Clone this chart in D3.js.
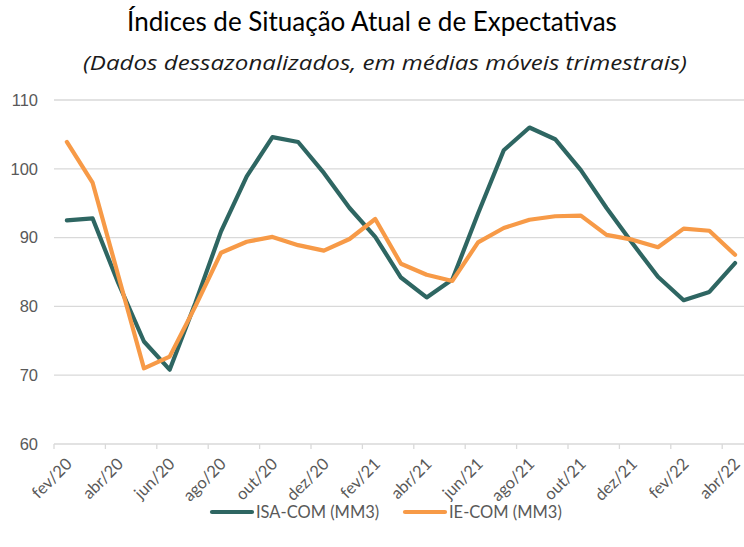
<!DOCTYPE html>
<html>
<head>
<meta charset="utf-8">
<script src="https://cdn.jsdelivr.net/npm/d3@7"></script>
<style>
  body { margin: 0; background: #fff; }
  svg { display: block; font-family: Lato, "Open Sans", sans-serif; }
</style>
</head>
<body>
<div id="chart"></div>
<script>
// months, fev/20 .. abr/22
const months = ["fev/20","mar/20","abr/20","mai/20","jun/20","jul/20","ago/20","set/20","out/20","nov/20","dez/20",
    "jan/21","fev/21","mar/21","abr/21","mai/21","jun/21","jul/21","ago/21","set/21","out/21","nov/21","dez/21",
    "jan/22","fev/22","mar/22","abr/22"];
const isaCom = [92.5, 92.8, 83.4, 74.9, 70.8, 80.5, 90.9, 98.9, 104.6, 103.9, 99.4, 94.3, 90.1, 84.2, 81.3, 83.9,
    93.5, 102.7, 106.0, 104.3, 99.8, 94.3, 89.2, 84.3, 80.9, 82.1, 86.3];
const ieCom = [103.9, 98.0, 84.5, 71.0, 72.7, 80.0, 87.8, 89.4, 90.1, 88.9, 88.1, 89.8, 92.7, 86.2, 84.6, 83.7,
    89.3, 91.4, 92.6, 93.1, 93.2, 90.4, 89.7, 88.6, 91.3, 91.0, 87.5];
const yTicks = [60, 70, 80, 90, 100, 110];
const seriesNames = ["ISA-COM (MM3)", "IE-COM (MM3)"];
const colors = ["#2e6662", "#f79a47"];

const W = 744, H = 547;
const svg = d3.select("#chart").append("svg").attr("width", W).attr("height", H);

// scales
let x = d3.scaleBand().domain(months).range([54, 54 + 27 * 25.7]);
let y = d3.scaleLinear().domain([60, 110]).range([444, 100]);

// title
svg.append("text").attr("x", 372).attr("y", 31).attr("text-anchor", "middle")
    .style("font-size", "26px").style("fill", "#000").text("Índices de Situação Atual e de Expectativas");
svg.append("text").attr("x", 385).attr("y", 70).attr("text-anchor", "middle")
    .attr("textLength", 604).attr("lengthAdjust", "spacingAndGlyphs")
    .style("font-family", "'Open Sans', sans-serif")
    .style("font-size", "20px").style("font-style", "italic").style("fill", "#1a1a1a")
    .text("(Dados dessazonalizados, em médias móveis trimestrais)");

// gridlines
svg.append("g").selectAll("line").data(yTicks.slice(1)).enter().append("line")
    .attr("x1", 54).attr("x2", W).attr("y1", (d) => y(d)).attr("y2", (d) => y(d))
    .attr("stroke", "#d9d9d9").attr("stroke-width", 1.3);

// y axis labels
svg.append("g").attr("transform", "translate(38,0)")
    .call(d3.axisLeft(y).tickValues(yTicks).tickSize(0).tickPadding(0))
    .call((g) => g.select(".domain").remove())
    .selectAll("text").style("font-size", "16.5px").style("fill", "#595959").attr("font-family", null);

// x axis baseline and tick marks at category boundaries
svg.append("line").attr("x1", 54).attr("x2", W).attr("y1", y(60)).attr("y2", y(60))
    .attr("stroke", "#d9d9d9").attr("stroke-width", 1.3);
const tickCats = months.filter((d, i) => i % 2 === 0);
svg.append("g").selectAll("line").data(tickCats).enter().append("line")
    .attr("x1", (d) => x(d)).attr("x2", (d) => x(d))
    .attr("y1", y(60)).attr("y2", y(60) + 5)
    .attr("stroke", "#d9d9d9").attr("stroke-width", 1.3);

// x labels
svg.append("g").selectAll("text").data(tickCats).enter().append("text")
    .attr("transform", (d) => "translate(" + (x(d) + x.bandwidth() / 2 + 2) + ",461) rotate(-45)")
    .attr("text-anchor", "end").attr("dy", "0.35em")
    .style("font-size", "16.5px").style("fill", "#595959").text((d) => d);

// lines
const line = d3.line().x((d, i) => x(months[i]) + x.bandwidth() / 2).y((d) => y(d));
[isaCom, ieCom].forEach((s, k) => {
    svg.append("path").datum(s).attr("d", line).attr("fill", "none")
        .attr("stroke", colors[k]).attr("stroke-width", 4.2)
        .attr("stroke-linejoin", "round").attr("stroke-linecap", "round");
});

// legend
const legendX = [212, 405];
seriesNames.forEach((name, k) => {
    const g = svg.append("g").attr("transform", "translate(" + legendX[k] + ",512)");
    g.append("line").attr("x1", 0).attr("x2", 40).attr("stroke", colors[k]).attr("stroke-width", 4.2)
        .attr("stroke-linecap", "round");
    g.append("text").attr("x", 44).attr("dy", "0.35em").style("font-size", "16.5px").style("fill", "#595959").text(name);
});
</script>
</body>
</html>
